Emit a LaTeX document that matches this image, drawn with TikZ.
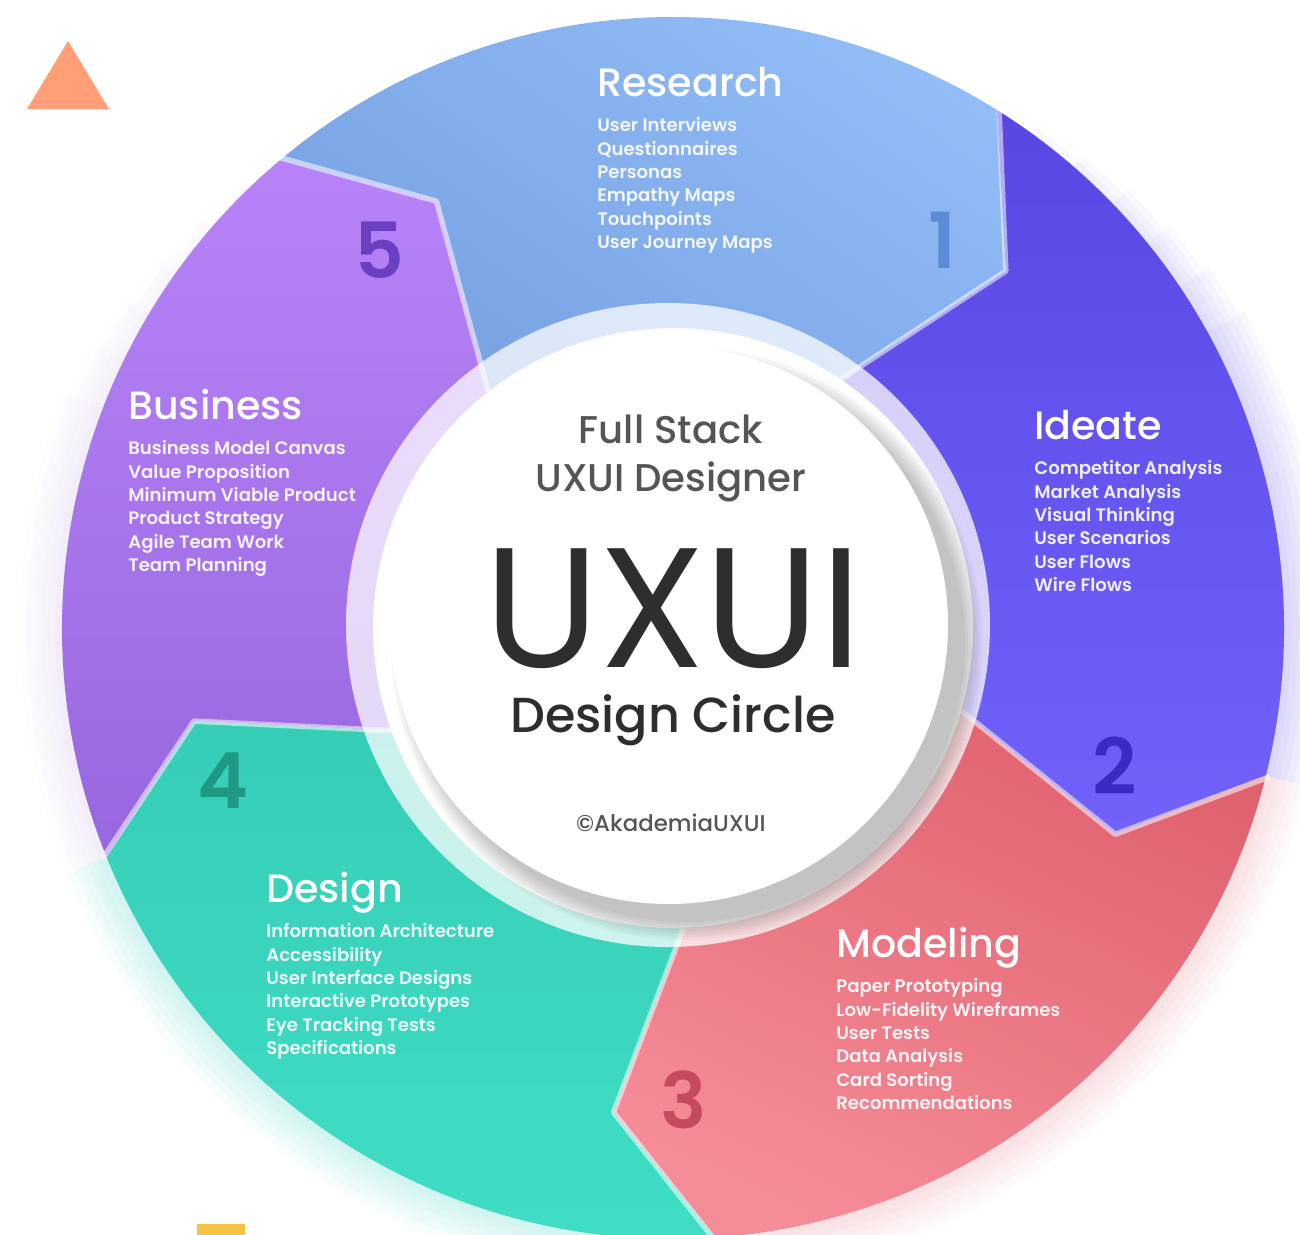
\documentclass[tikz,border=0pt]{standalone}
\usepackage{fontspec}
\setmainfont{Poppins}
\newfontfamily\medfont{Poppins Medium}
\newfontfamily\semifont{Poppins SemiBold}
\usetikzlibrary{positioning}
\definecolor{resA}{HTML}{93BEF8}
\definecolor{resB}{HTML}{78A1E2}
\definecolor{ideA}{HTML}{5947E4}
\definecolor{ideB}{HTML}{7262FA}
\definecolor{modA}{HTML}{E0626F}
\definecolor{modB}{HTML}{F58D98}
\definecolor{desA}{HTML}{36CDB6}
\definecolor{desB}{HTML}{40DEC6}
\definecolor{busA}{HTML}{B883F8}
\definecolor{busB}{HTML}{9767DF}
\definecolor{numres}{HTML}{5C8AD6}
\definecolor{numide}{HTML}{3B2BC2}
\definecolor{nummod}{HTML}{C64A5D}
\definecolor{numdes}{HTML}{1F9885}
\definecolor{numbus}{HTML}{6A3FC2}
\definecolor{trifill}{HTML}{FF9E77}
\definecolor{barfill}{HTML}{F5C445}
\definecolor{softgray}{HTML}{555555}
\definecolor{darkgray}{HTML}{2E2E2E}
\tikzset{
  stagetitle/.style={font=\medfont\fontsize{22.5}{26}\selectfont, text=white, inner sep=0pt, anchor=base west},
  stageitems/.style={font=\semifont\fontsize{10.3}{13.3}\selectfont, text=white, text opacity=.9, align=left, inner sep=0pt},
  stagenum/.style={font=\semifont\fontsize{44}{44}\selectfont, inner sep=0pt},
  hubtext/.style={anchor=base, inner sep=0pt, text depth=0pt},
  gapline/.style={draw=white, draw opacity=.55, line width=1.1mm, line join=round},
}
\begin{document}
\begin{tikzpicture}[x=0.2mm,y=0.2mm]
\pgfmathsetmacro{\rout}{611}
\pgfmathsetmacro{\rmid}{488}
\pgfmathsetmacro{\rin}{300}
\fill[white] (-673,-607) rectangle (627,628);
\useasboundingbox (-673,-607) rectangle (627,628);
\fill[trifill] (-646,519) -- (-564,519) -- (-605,587) -- cycle;
\foreach \k/\c/\g/\ts/\te in {2/ideB/.045/1/0, 3/modB/.045/0/0, 4/desB/.04/0/0, 5/busA/.025/0/1}{
  \pgfmathsetmacro{\s}{202-72*\k}
  \pgfmathsetmacro{\e}{\s-72}
  \foreach \j/\w in {0/8,1/16,2/24,3/32,4/40,5/48}{
    \pgfmathsetmacro{\sa}{\s-\ts*(4+5*\j)}
    \pgfmathsetmacro{\ea}{\e+\te*(4+5*\j)}
    \draw[\c, opacity=\g, line width=\w pt] (\sa:\rout) arc[start angle=\sa, end angle=\ea, radius=\rout];
  }
}
\foreach \k/\ca/\cb/\ang in {1/resA/resB/-35, 2/ideA/ideB/0, 3/modA/modB/-25, 4/desA/desB/0, 5/busA/busB/0}{
  \pgfmathsetmacro{\s}{202-72*\k}
  \pgfmathsetmacro{\e}{\s-72}
  \shade[top color=\ca, bottom color=\cb, shading angle=\ang]
    (\s:\rout) arc[start angle=\s, end angle=\e, radius=\rout]
    -- ({\e-11}:\rmid) -- ({\e-2}:\rin)
    arc[start angle=\e-2, end angle=\s-2, radius=\rin]
    -- ({\s-11}:\rmid) -- cycle;
}
\foreach \k in {1,...,5}{
  \pgfmathsetmacro{\b}{130-72*\k}
  \coordinate (o\k) at (\b:\rout+4);
  \coordinate (a\k) at ({\b-11}:\rmid);
  \coordinate (i\k) at ({\b-2}:\rin);
  \draw[gapline] (o\k) -- (a\k) -- (i\k);
}
\fill[white, opacity=.74] (-5,3) circle[radius=322];
\foreach \r in {296,293,290,287,284,281,278}{\fill[black, opacity=.035] (14,-16) circle[radius=\r];}
\fill[white] (-4,3) circle[radius=279];
\fill[barfill] (-476,-607) rectangle (-428,-596);

\node[stagetitle] (research) at (-76,532) {Research};
\node[stageitems, below=12pt of research.base west, anchor=north west] (researchlist)
  {User Interviews\\Questionnaires\\Personas\\Empathy Maps\\Touchpoints\\User Journey Maps};
\node[stagetitle] (ideate) at (361,189) {Ideate};
\node[stageitems, below=12pt of ideate.base west, anchor=north west] (ideatelist)
  {Competitor Analysis\\Market Analysis\\Visual Thinking\\User Scenarios\\User Flows\\Wire Flows};
\node[stagetitle] (modeling) at (163,-329) {Modeling};
\node[stageitems, below=12pt of modeling.base west, anchor=north west] (modelinglist)
  {Paper Prototyping\\Low-Fidelity Wireframes\\User Tests\\Data Analysis\\Card Sorting\\Recommendations};
\node[stagetitle] (design) at (-407,-274) {Design};
\node[stageitems, below=12pt of design.base west, anchor=north west] (designlist)
  {Information Architecture\\Accessibility\\User Interface Designs\\Interactive Prototypes\\Eye Tracking Tests\\Specifications};
\node[stagetitle] (business) at (-545,209) {Business};
\node[stageitems, below=12pt of business.base west, anchor=north west] (businesslist)
  {Business Model Canvas\\Value Proposition\\Minimum Viable Product\\Product Strategy\\Agile Team Work\\Team Planning};

\node[stagenum, text=numres] (num1) at (269,388) {1};
\node[stagenum, text=numide] (num2) at (442,-138) {2};
\node[stagenum, text=nummod] (num3) at (11,-472) {3};
\node[stagenum, text=numdes] (num4) at (-450,-153) {4};
\node[stagenum, text=numbus] (num5) at (-294,378) {5};

\node[hubtext, font=\medfont\fontsize{22}{22}\selectfont, text=softgray] (fullstack) at (-2,185) {Full Stack};
\node[hubtext, font=\medfont\fontsize{22}{22}\selectfont, text=softgray] (designer) at (-2,137) {UXUI Designer};
\node[hubtext, font=\fontsize{97}{97}\selectfont, text=darkgray] (uxui) at (0,-39) {UXUI};
\node[hubtext, font=\medfont\fontsize{28}{28}\selectfont, text=darkgray, text height=0.72em] (circle) at (0,-104) {Design Circle};
\node[hubtext, font=\medfont\fontsize{13}{13}\selectfont, text=softgray] (copyright) at (-2,-203) {©AkademiaUXUI};
\end{tikzpicture}
\end{document}
